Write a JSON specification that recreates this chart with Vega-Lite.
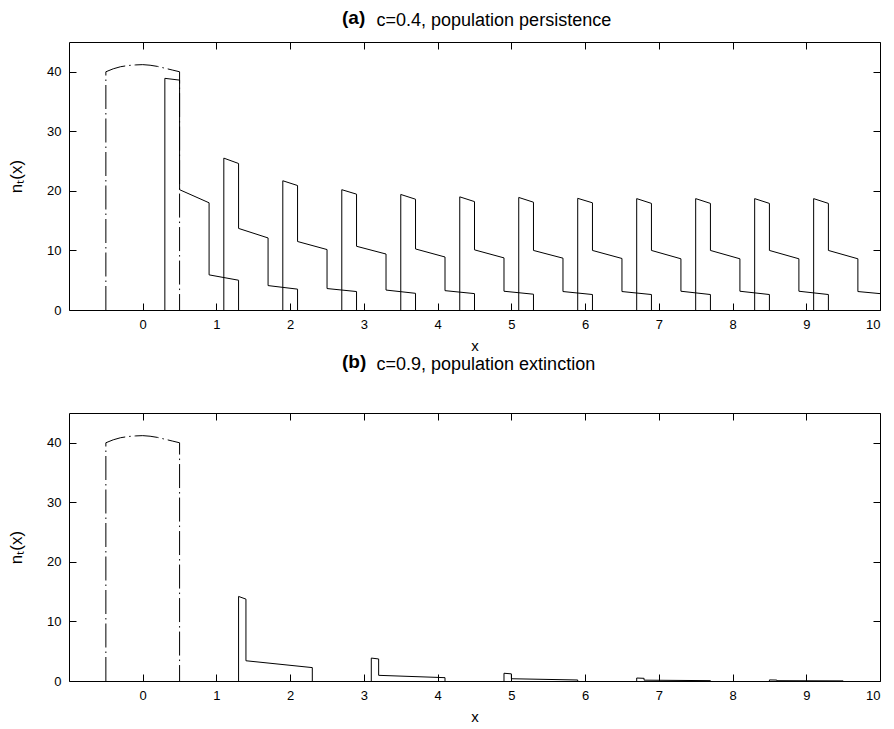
{
  "$schema": "https://vega.github.io/schema/vega-lite/v6.json",
  "background": "white",
  "padding": {"left": 7, "top": 8, "right": 8, "bottom": 5},
  "spacing": -2,
  "config": {
    "font": "Liberation Sans",
    "view": {"stroke": "black", "strokeWidth": 1},
    "axis": {"grid": false, "domain": false, "tickColor": "black", "labelColor": "black", "titleColor": "black", "labelFontSize": 13, "titleFontSize": 15, "titleFontWeight": "normal", "tickWidth": 1}
  },
  "datasets": {
    "init": [
      {"i":0,"x":-0.5,"y":0},{"i":1,"x":-0.5,"y":40},{"i":2,"x":-0.4,"y":40.5},{"i":3,"x":-0.3,"y":40.85},{"i":4,"x":-0.2,"y":41.05},{"i":5,"x":-0.1,"y":41.15},{"i":6,"x":0,"y":41.2},{"i":7,"x":0.1,"y":41.1},{"i":8,"x":0.2,"y":40.9},{"i":9,"x":0.3,"y":40.6},{"i":10,"x":0.4,"y":40.3},{"i":11,"x":0.5,"y":40.0},{"i":12,"x":0.5,"y":0}
    ],
    "persist": [
      {"g":1,"i":0,"x":0.3,"y":0},{"g":1,"i":1,"x":0.3,"y":38.9},{"g":1,"i":2,"x":0.5,"y":38.6},{"g":1,"i":3,"x":0.5,"y":20.2},{"g":1,"i":4,"x":0.9,"y":18.0},{"g":1,"i":5,"x":0.9,"y":5.9},{"g":1,"i":6,"x":1.3,"y":5.0},{"g":1,"i":7,"x":1.3,"y":0},
      {"g":2,"i":0,"x":1.1,"y":0},{"g":2,"i":1,"x":1.1,"y":25.5},{"g":2,"i":2,"x":1.3,"y":24.6},{"g":2,"i":3,"x":1.3,"y":13.7},{"g":2,"i":4,"x":1.7,"y":12.1},{"g":2,"i":5,"x":1.7,"y":4.1},{"g":2,"i":6,"x":2.1,"y":3.5},{"g":2,"i":7,"x":2.1,"y":0},
      {"g":3,"i":0,"x":1.9,"y":0},{"g":3,"i":1,"x":1.9,"y":21.7},{"g":3,"i":2,"x":2.1,"y":20.9},{"g":3,"i":3,"x":2.1,"y":11.5},{"g":3,"i":4,"x":2.5,"y":10.15},{"g":3,"i":5,"x":2.5,"y":3.6},{"g":3,"i":6,"x":2.9,"y":3.1},{"g":3,"i":7,"x":2.9,"y":0},
      {"g":4,"i":0,"x":2.7,"y":0},{"g":4,"i":1,"x":2.7,"y":20.2},{"g":4,"i":2,"x":2.9,"y":19.45},{"g":4,"i":3,"x":2.9,"y":10.7},{"g":4,"i":4,"x":3.3,"y":9.4},{"g":4,"i":5,"x":3.3,"y":3.35},{"g":4,"i":6,"x":3.7,"y":2.8},{"g":4,"i":7,"x":3.7,"y":0},
      {"g":5,"i":0,"x":3.5,"y":0},{"g":5,"i":1,"x":3.5,"y":19.4},{"g":5,"i":2,"x":3.7,"y":18.6},{"g":5,"i":3,"x":3.7,"y":10.25},{"g":5,"i":4,"x":4.1,"y":8.9},{"g":5,"i":5,"x":4.1,"y":3.25},{"g":5,"i":6,"x":4.5,"y":2.75},{"g":5,"i":7,"x":4.5,"y":0},
      {"g":6,"i":0,"x":4.3,"y":0},{"g":6,"i":1,"x":4.3,"y":19.0},{"g":6,"i":2,"x":4.5,"y":18.2},{"g":6,"i":3,"x":4.5,"y":10.1},{"g":6,"i":4,"x":4.9,"y":8.75},{"g":6,"i":5,"x":4.9,"y":3.15},{"g":6,"i":6,"x":5.3,"y":2.65},{"g":6,"i":7,"x":5.3,"y":0},
      {"g":7,"i":0,"x":5.1,"y":0},{"g":7,"i":1,"x":5.1,"y":18.9},{"g":7,"i":2,"x":5.3,"y":18.1},{"g":7,"i":3,"x":5.3,"y":10.0},{"g":7,"i":4,"x":5.7,"y":8.7},{"g":7,"i":5,"x":5.7,"y":3.1},{"g":7,"i":6,"x":6.1,"y":2.6},{"g":7,"i":7,"x":6.1,"y":0},
      {"g":8,"i":0,"x":5.9,"y":0},{"g":8,"i":1,"x":5.9,"y":18.75},{"g":8,"i":2,"x":6.1,"y":18.0},{"g":8,"i":3,"x":6.1,"y":10.0},{"g":8,"i":4,"x":6.5,"y":8.65},{"g":8,"i":5,"x":6.5,"y":3.1},{"g":8,"i":6,"x":6.9,"y":2.6},{"g":8,"i":7,"x":6.9,"y":0},
      {"g":9,"i":0,"x":6.7,"y":0},{"g":9,"i":1,"x":6.7,"y":18.7},{"g":9,"i":2,"x":6.9,"y":17.9},{"g":9,"i":3,"x":6.9,"y":10.0},{"g":9,"i":4,"x":7.3,"y":8.6},{"g":9,"i":5,"x":7.3,"y":3.15},{"g":9,"i":6,"x":7.7,"y":2.6},{"g":9,"i":7,"x":7.7,"y":0},
      {"g":10,"i":0,"x":7.5,"y":0},{"g":10,"i":1,"x":7.5,"y":18.7},{"g":10,"i":2,"x":7.7,"y":17.9},{"g":10,"i":3,"x":7.7,"y":10.0},{"g":10,"i":4,"x":8.1,"y":8.6},{"g":10,"i":5,"x":8.1,"y":3.15},{"g":10,"i":6,"x":8.5,"y":2.6},{"g":10,"i":7,"x":8.5,"y":0},
      {"g":11,"i":0,"x":8.3,"y":0},{"g":11,"i":1,"x":8.3,"y":18.7},{"g":11,"i":2,"x":8.5,"y":17.9},{"g":11,"i":3,"x":8.5,"y":10.0},{"g":11,"i":4,"x":8.9,"y":8.6},{"g":11,"i":5,"x":8.9,"y":3.15},{"g":11,"i":6,"x":9.3,"y":2.6},{"g":11,"i":7,"x":9.3,"y":0},
      {"g":12,"i":0,"x":9.1,"y":0},{"g":12,"i":1,"x":9.1,"y":18.7},{"g":12,"i":2,"x":9.3,"y":17.9},{"g":12,"i":3,"x":9.3,"y":10.0},{"g":12,"i":4,"x":9.7,"y":8.6},{"g":12,"i":5,"x":9.7,"y":3.1},{"g":12,"i":6,"x":10,"y":2.75}
    ],
    "extinct": [
      {"g":1,"i":0,"x":1.3,"y":0},{"g":1,"i":1,"x":1.3,"y":14.2},{"g":1,"i":2,"x":1.4,"y":13.75},{"g":1,"i":3,"x":1.4,"y":3.4},{"g":1,"i":4,"x":2.3,"y":2.25},{"g":1,"i":5,"x":2.3,"y":0},
      {"g":2,"i":0,"x":3.1,"y":0},{"g":2,"i":1,"x":3.1,"y":3.85},{"g":2,"i":2,"x":3.2,"y":3.7},{"g":2,"i":3,"x":3.2,"y":0.95},{"g":2,"i":4,"x":4.1,"y":0.56},{"g":2,"i":5,"x":4.1,"y":0},
      {"g":3,"i":0,"x":4.9,"y":0},{"g":3,"i":1,"x":4.9,"y":1.3},{"g":3,"i":2,"x":5.0,"y":1.2},{"g":3,"i":3,"x":5.0,"y":0.38},{"g":3,"i":4,"x":5.9,"y":0.17},{"g":3,"i":5,"x":5.9,"y":0},
      {"g":4,"i":0,"x":6.7,"y":0},{"g":4,"i":1,"x":6.7,"y":0.5},{"g":4,"i":2,"x":6.8,"y":0.45},{"g":4,"i":3,"x":6.8,"y":0.14},{"g":4,"i":4,"x":7.7,"y":0.06},{"g":4,"i":5,"x":7.7,"y":0},
      {"g":5,"i":0,"x":8.5,"y":0},{"g":5,"i":1,"x":8.5,"y":0.18},{"g":5,"i":2,"x":8.6,"y":0.16},{"g":5,"i":3,"x":8.6,"y":0.05},{"g":5,"i":4,"x":9.5,"y":0.02},{"g":5,"i":5,"x":9.5,"y":0}
    ]
  },
  "vconcat": [
    {
      "width": 811,
      "height": 268,
      "title": {"text": "(a)", "anchor": "start", "frame": "group", "dx": 273, "font": "Liberation Sans", "fontSize": 19, "fontWeight": "bold", "color": "black", "offset": -17},
      "layer": [
        {
          "data": {"name": "init"},
          "mark": {"type": "line", "color": "black", "strokeWidth": 1, "strokeDash": [24, 4, 1.5, 4], "clip": true},
          "encoding": {
            "x": {"field": "x", "type": "quantitative", "scale": {"domain": [-1, 10], "nice": false, "zero": false}, "axis": {"orient": "bottom", "values": [0,1,2,3,4,5,6,7,8,9,10], "tickSize": -7, "labelPadding": 15, "title": "x", "titlePadding": 7}},
            "y": {"field": "y", "type": "quantitative", "scale": {"domain": [0, 45], "nice": false}, "axis": {"orient": "left", "values": [0,10,20,30,40], "tickSize": -7, "labelPadding": 15, "title": "nₜ(x)", "titleFontSize": 17, "titlePadding": 21}},
            "order": {"field": "i", "type": "quantitative"}
          }
        },
        {
          "data": {"name": "persist"},
          "mark": {"type": "line", "color": "black", "strokeWidth": 1, "clip": true},
          "encoding": {
            "x": {"field": "x", "type": "quantitative", "scale": {"domain": [-1, 10], "nice": false, "zero": false}, "axis": {"orient": "top", "values": [0,1,2,3,4,5,6,7,8,9,10], "tickSize": -7, "labels": false, "title": "c=0.4, population persistence", "titleX": 307, "titleY": -17, "titleAlign": "left", "titleBaseline": "alphabetic", "titleAngle": 0, "titleFontSize": 18, "titleFontWeight": "normal"}},
            "y": {"field": "y", "type": "quantitative", "scale": {"domain": [0, 45], "nice": false}, "axis": {"orient": "right", "values": [0,10,20,30,40], "tickSize": -7, "labels": false, "title": null}},
            "detail": {"field": "g", "type": "nominal"},
            "order": {"field": "i", "type": "quantitative"}
          }
        }
      ],
      "resolve": {"axis": {"x": "independent", "y": "independent"}}
    },
    {
      "width": 811,
      "height": 268,
      "title": {"text": "(b)", "anchor": "start", "frame": "group", "dx": 273, "font": "Liberation Sans", "fontSize": 19, "fontWeight": "bold", "color": "black", "offset": -17},
      "layer": [
        {
          "data": {"name": "init"},
          "mark": {"type": "line", "color": "black", "strokeWidth": 1, "strokeDash": [24, 4, 1.5, 4], "clip": true},
          "encoding": {
            "x": {"field": "x", "type": "quantitative", "scale": {"domain": [-1, 10], "nice": false, "zero": false}, "axis": {"orient": "bottom", "values": [0,1,2,3,4,5,6,7,8,9,10], "tickSize": -7, "labelPadding": 15, "title": "x", "titlePadding": 7}},
            "y": {"field": "y", "type": "quantitative", "scale": {"domain": [0, 45], "nice": false}, "axis": {"orient": "left", "values": [0,10,20,30,40], "tickSize": -7, "labelPadding": 15, "title": "nₜ(x)", "titleFontSize": 17, "titlePadding": 21}},
            "order": {"field": "i", "type": "quantitative"}
          }
        },
        {
          "data": {"name": "extinct"},
          "mark": {"type": "line", "color": "black", "strokeWidth": 1, "clip": true},
          "encoding": {
            "x": {"field": "x", "type": "quantitative", "scale": {"domain": [-1, 10], "nice": false, "zero": false}, "axis": {"orient": "top", "values": [0,1,2,3,4,5,6,7,8,9,10], "tickSize": -7, "labels": false, "title": "c=0.9, population extinction", "titleX": 307, "titleY": -44, "titleAlign": "left", "titleBaseline": "alphabetic", "titleAngle": 0, "titleFontSize": 18, "titleFontWeight": "normal"}},
            "y": {"field": "y", "type": "quantitative", "scale": {"domain": [0, 45], "nice": false}, "axis": {"orient": "right", "values": [0,10,20,30,40], "tickSize": -7, "labels": false, "title": null}},
            "detail": {"field": "g", "type": "nominal"},
            "order": {"field": "i", "type": "quantitative"}
          }
        }
      ],
      "resolve": {"axis": {"x": "independent", "y": "independent"}}
    }
  ]
}
